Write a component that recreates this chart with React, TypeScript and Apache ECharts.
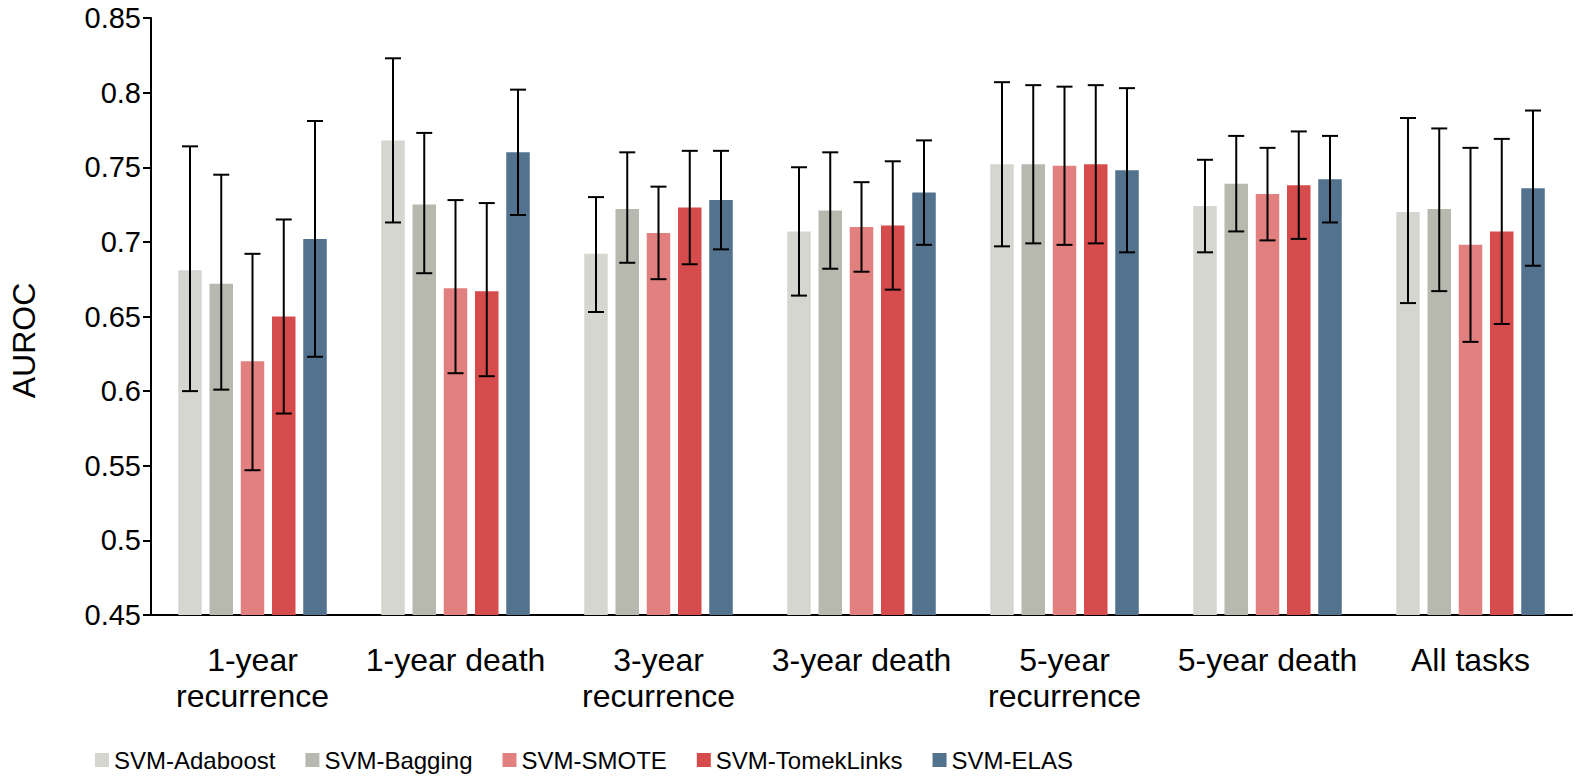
import React, { useEffect, useRef } from "react";
import * as echarts from "echarts";

const categories = [
  "1-year\nrecurrence",
  "1-year death",
  "3-year\nrecurrence",
  "3-year death",
  "5-year\nrecurrence",
  "5-year death",
  "All tasks",
];

const seriesNames = ["SVM-Adaboost", "SVM-Bagging", "SVM-SMOTE", "SVM-TomekLinks", "SVM-ELAS"];
const colors = ["#D5D6D0", "#B7B8AE", "#E27F7F", "#D64B4C", "#52728E"];

const adaboost = [0.681, 0.768, 0.692, 0.707, 0.752, 0.724, 0.72];
const adaboostLow = [0.6, 0.713, 0.653, 0.664, 0.697, 0.693, 0.659];
const adaboostHigh = [0.764, 0.823, 0.73, 0.75, 0.807, 0.755, 0.783];

const bagging = [0.672, 0.725, 0.722, 0.721, 0.752, 0.739, 0.722];
const baggingLow = [0.601, 0.679, 0.686, 0.682, 0.699, 0.707, 0.667];
const baggingHigh = [0.745, 0.773, 0.76, 0.76, 0.805, 0.771, 0.776];

const smote = [0.62, 0.669, 0.706, 0.71, 0.751, 0.732, 0.698];
const smoteLow = [0.547, 0.612, 0.675, 0.68, 0.698, 0.701, 0.633];
const smoteHigh = [0.692, 0.728, 0.737, 0.74, 0.804, 0.763, 0.763];

const tomek = [0.65, 0.667, 0.723, 0.711, 0.752, 0.738, 0.707];
const tomekLow = [0.585, 0.61, 0.685, 0.668, 0.699, 0.702, 0.645];
const tomekHigh = [0.715, 0.726, 0.761, 0.754, 0.805, 0.774, 0.769];

const elas = [0.702, 0.76, 0.728, 0.733, 0.748, 0.742, 0.736];
const elasLow = [0.623, 0.718, 0.695, 0.698, 0.693, 0.713, 0.684];
const elasHigh = [0.781, 0.802, 0.761, 0.768, 0.803, 0.771, 0.788];

const means = [adaboost, bagging, smote, tomek, elas];
const lows = [adaboostLow, baggingLow, smoteLow, tomekLow, elasLow];
const highs = [adaboostHigh, baggingHigh, smoteHigh, tomekHigh, elasHigh];

const FONT = "'Liberation Sans', Arial, sans-serif";
const BAR_W = 23.5;
const BAR_GAP = 0.33;

export default function App() {
  const ref = useRef<HTMLDivElement>(null);
  useEffect(() => {
    document.body.style.margin = "0";
    if (!ref.current) return;
    const chart = echarts.init(ref.current, undefined, { renderer: "svg" });
    const pitch = BAR_W * (1 + BAR_GAP);
    const barSeries = seriesNames.map((name, i) => ({
      name,
      type: "bar",
      data: means[i],
      barWidth: BAR_W,
      barGap: BAR_GAP * 100 + "%",
      itemStyle: { color: colors[i] },
      z: 2,
    }));
    const errSeries = seriesNames.map((name, i) => ({
      name: name + " error",
      type: "custom",
      z: 5,
      data: categories.map((_, c) => [c, lows[i][c], highs[i][c]]),
      encode: { x: 0, y: [1, 2] },
      renderItem: (params: any, api: any) => {
        const c = api.value(0);
        const lo = api.coord([c, api.value(1)]);
        const hi = api.coord([c, api.value(2)]);
        const x = lo[0] + (i - 2) * pitch;
        const style = { stroke: "#000", lineWidth: 2 };
        return {
          type: "group",
          children: [
            { type: "line", shape: { x1: x, y1: hi[1], x2: x, y2: lo[1] }, style },
            { type: "line", shape: { x1: x - 8, y1: hi[1], x2: x + 8, y2: hi[1] }, style },
            { type: "line", shape: { x1: x - 8, y1: lo[1], x2: x + 8, y2: lo[1] }, style },
          ],
        };
      },
    }));
    chart.setOption({
      animation: false,
      textStyle: { fontFamily: FONT },
      grid: { left: 149, right: 20, top: 18, bottom: 169, containLabel: false },
      legend: {
        data: seriesNames,
        left: 90,
        top: 743,
        itemWidth: 14,
        itemHeight: 14,
        itemGap: 30,
        icon: "rect",
        textStyle: { fontSize: 24, color: "#000", fontFamily: FONT },
      },
      xAxis: {
        type: "category",
        data: categories,
        axisLine: { lineStyle: { color: "#000", width: 2 } },
        axisTick: { inside: true, length: 8, lineStyle: { color: "#000", width: 2 } },
        axisLabel: {
          fontSize: 32,
          color: "#000",
          lineHeight: 36,
          margin: 27,
          interval: 0,
          fontFamily: FONT,
        },
      },
      yAxis: {
        type: "value",
        min: 0.45,
        max: 0.85,
        interval: 0.05,
        name: "AUROC",
        nameLocation: "middle",
        nameGap: 111,
        nameTextStyle: {
          fontSize: 32,
          color: "#000",
          fontFamily: FONT,
          padding: [0, 48, 0, 0],
        },
        axisLine: { show: true, lineStyle: { color: "#000", width: 2 } },
        axisTick: { show: true, length: 8, lineStyle: { color: "#000", width: 2 } },
        splitLine: { show: false },
        axisLabel: { fontSize: 29, color: "#000", margin: 10, fontFamily: FONT },
      },
      series: [...barSeries, ...errSeries],
    });
    return () => chart.dispose();
  }, []);
  return <div ref={ref} style={{ width: 1592, height: 784 }} />;
}
